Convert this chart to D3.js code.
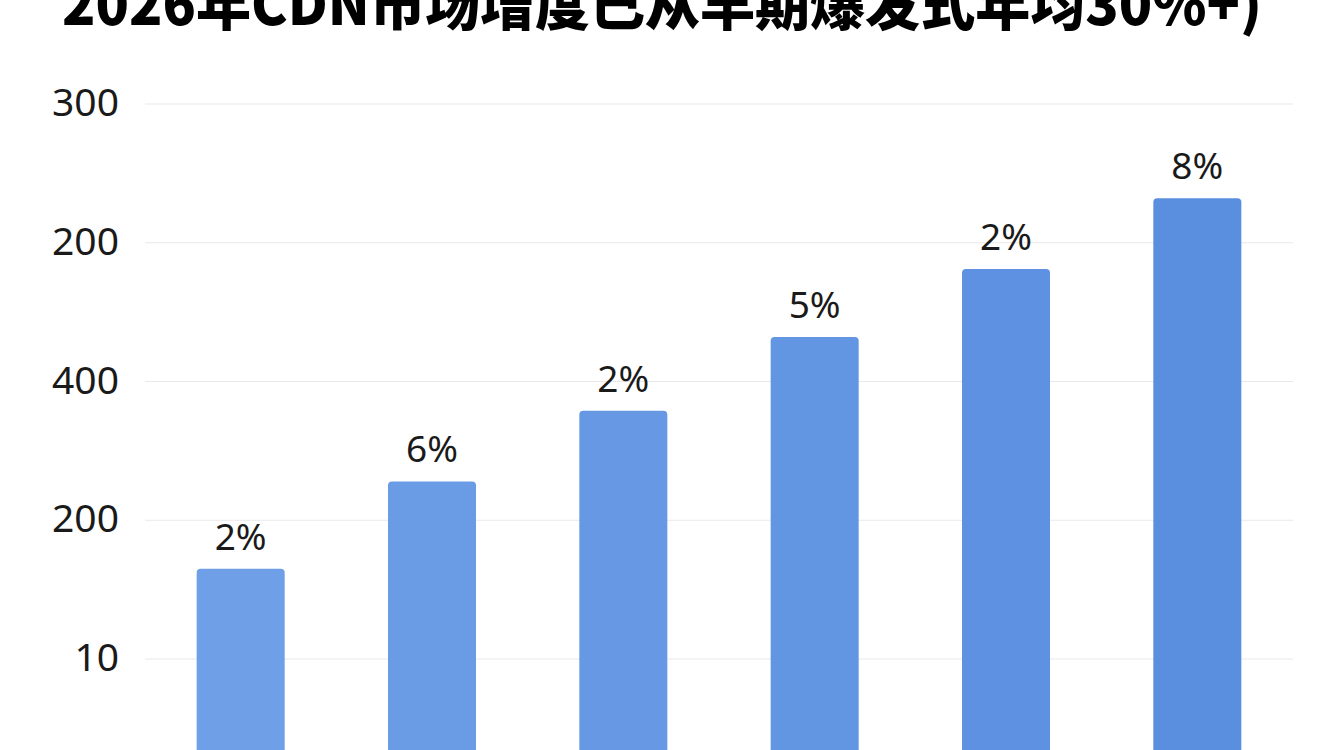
<!DOCTYPE html>
<html lang="zh">

<head>
    <meta charset="UTF-8">
    <title>CDN市场增度</title>
    <script src="https://d3js.org/d3.v7.min.js"></script>
    <style>
        body {
            margin: 0;
            background: #ffffff;
            overflow: hidden;
        }

        .tick text {
            font-family: 'Noto Sans', 'Open Sans', sans-serif;
            font-size: 39px;
            fill: #1a1a1a;
        }

        .bar-label {
            font-family: 'Noto Sans', 'Open Sans', sans-serif;
            font-size: 37px;
            fill: #1a1a1a;
        }

        .chart-title {
            font-family: 'Noto Sans CJK SC', sans-serif;
            font-weight: 900;
            font-size: 57px;
            fill: #000000;
        }
    </style>
</head>

<body>
    <svg width="1344" height="750"></svg>

    <script>
        // data (axis labels are as printed, not monotonic)
        const categories = ["A", "B", "C", "D", "E", "F"];
        const values = [165, 228, 279, 332, 381, 432];
        const barLabels = ["2%", "6%", "2%", "5%", "2%", "8%"];
        const tickValues = [100, 200, 300, 400, 500];
        const tickLabels = ["10", "200", "400", "200", "300"];
        const title = "2026年CDN市场增度已从早期爆发式年均30%+)";

        const svg = d3.select("svg");

        const x = d3.scaleBand()
            .domain(categories)
            .range([145, 1293])
            .paddingInner(0.54)
            .paddingOuter(0.27);

        const y = d3.scaleLinear()
            .domain([100, 500])
            .range([659, 104]);

        // grid lines
        svg.append("g")
            .attr("class", "grid")
            .selectAll("line")
            .data(tickValues)
            .enter()
            .append("line")
            .attr("x1", 145)
            .attr("x2", 1293)
            .attr("y1", d => y(d))
            .attr("y2", d => y(d))
            .attr("stroke", "#e9e9e9")
            .attr("stroke-width", 1.2);

        // y axis (labels only)
        const yAxis = svg.append("g")
            .attr("transform", "translate(119,0)")
            .call(d3.axisLeft(y)
                .tickValues(tickValues)
                .tickSize(0)
                .tickPadding(0)
                .tickFormat((d, i) => tickLabels[i]));
        yAxis.select(".domain").remove();
        yAxis.selectAll("text").attr("dy", "0.3em");

        // bars
        const color = d3.interpolateRgb("#6e9fe7", "#5a8edf");
        svg.selectAll(".bar")
            .data(values)
            .enter()
            .append("rect")
            .attr("class", "bar")
            .attr("x", (d, i) => x(categories[i]))
            .attr("y", d => y(d))
            .attr("width", x.bandwidth())
            .attr("height", d => y(0) - y(d))
            .attr("rx", 4)
            .attr("fill", (d, i) => color(i / (values.length - 1)));

        // value labels
        svg.selectAll(".bar-label")
            .data(values)
            .enter()
            .append("text")
            .attr("class", "bar-label")
            .attr("x", (d, i) => x(categories[i]) + x.bandwidth() / 2)
            .attr("y", d => y(d) - 19)
            .attr("text-anchor", "middle")
            .text((d, i) => barLabels[i]);

        // title, cut off at the top like the picture
        svg.append("text")
            .attr("class", "chart-title")
            .attr("x", 662)
            .attr("y", 25)
            .attr("text-anchor", "middle")
            .attr("textLength", 1200)
            .attr("lengthAdjust", "spacingAndGlyphs")
            .text(title);
    </script>
</body>

</html>
